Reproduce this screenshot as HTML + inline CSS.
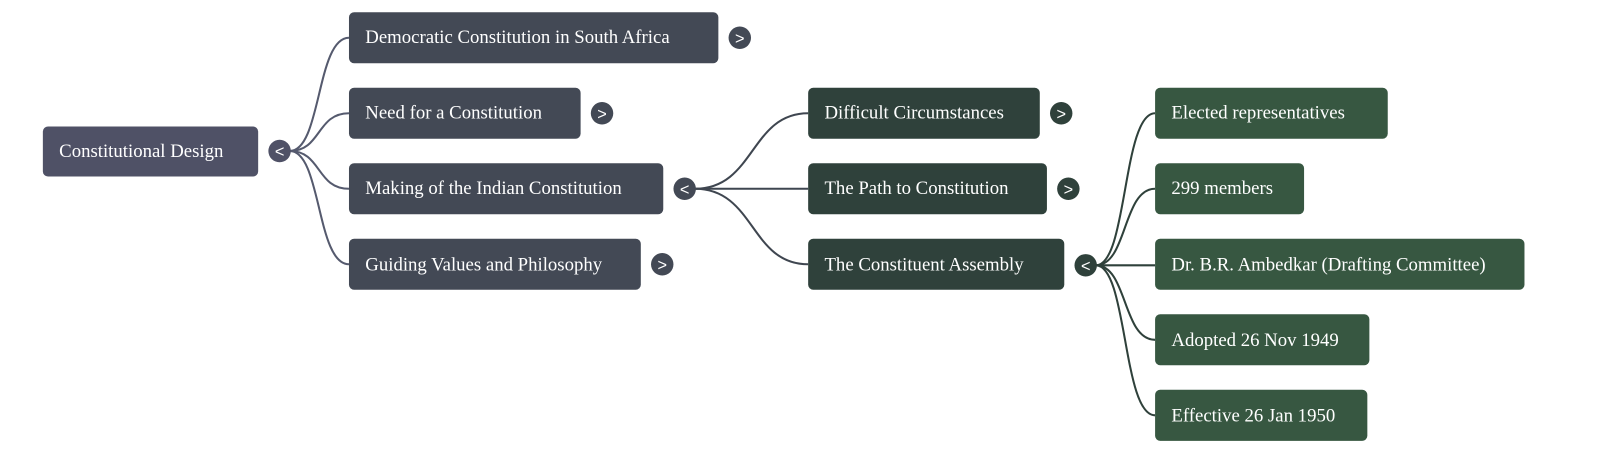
<!DOCTYPE html>
<html><head><style>body{margin:0;background:#fff}svg text{font-family:"Liberation Serif",serif;font-size:18.4px;fill:#fff}</style></head><body>
<svg width="1600" height="454" xmlns="http://www.w3.org/2000/svg">
<g transform="scale(1.0204)">
<g fill="none" stroke-width="2">
<g stroke="#555a6e">
<path d="M284 148 C315 148 310 37 342 37"/>
<path d="M284 148 C315 148 310 111 342 111"/>
<path d="M284 148 C315 148 310 185 342 185"/>
<path d="M284 148 C315 148 310 259 342 259"/>
</g>
<g stroke="#3f4650">
<path d="M681 185 C740 185 735 111 792 111"/>
<path d="M681 185 L792 185"/>
<path d="M681 185 C740 185 735 259 792 259"/>
</g>
<g stroke="#2f413b">
<path d="M1074 260 C1105 260 1100 111 1132 111"/>
<path d="M1074 260 C1105 260 1100 185 1132 185"/>
<path d="M1074 260 L1132 260"/>
<path d="M1074 260 C1105 260 1100 333 1132 333"/>
<path d="M1074 260 C1105 260 1100 407 1132 407"/>
</g>
</g>
<rect x="42" y="124" width="211" height="49" rx="5" fill="#4f5166"/>
<text x="58" y="154">Constitutional Design</text>
<g fill="#434955">
<rect x="342" y="12" width="362" height="50" rx="5"/>
<rect x="342" y="86" width="227" height="50" rx="5"/>
<rect x="342" y="160" width="308" height="50" rx="5"/>
<rect x="342" y="234" width="286" height="50" rx="5"/>
</g>
<text x="358" y="42">Democratic Constitution in South Africa</text>
<text x="358" y="116">Need for a Constitution</text>
<text x="358" y="190">Making of the Indian Constitution</text>
<text x="358" y="265">Guiding Values and Philosophy</text>
<g fill="#2f413b">
<rect x="792" y="86" width="227" height="50" rx="5"/>
<rect x="792" y="160" width="234" height="50" rx="5"/>
<rect x="792" y="234" width="251" height="50" rx="5"/>
</g>
<text x="808" y="116">Difficult Circumstances</text>
<text x="808" y="190">The Path to Constitution</text>
<text x="808" y="265">The Constituent Assembly</text>
<g fill="#375741">
<rect x="1132" y="86" width="228" height="50" rx="5"/>
<rect x="1132" y="160" width="146" height="50" rx="5"/>
<rect x="1132" y="234" width="362" height="50" rx="5"/>
<rect x="1132" y="308" width="210" height="50" rx="5"/>
<rect x="1132" y="382" width="208" height="50" rx="5"/>
</g>
<text x="1148" y="116">Elected representatives</text>
<text x="1148" y="190">299 members</text>
<text x="1148" y="265">Dr. B.R. Ambedkar (Drafting Committee)</text>
<text x="1148" y="339">Adopted 26 Nov 1949</text>
<text x="1148" y="413">Effective 26 Jan 1950</text>
<g text-anchor="middle">
<circle cx="274" cy="148" r="11" fill="#4f5166"/><text x="274" y="154" style="font-family:'Liberation Sans',sans-serif;font-size:16px">&lt;</text>
<circle cx="725" cy="37" r="11" fill="#434955"/><text x="725" y="43" style="font-family:'Liberation Sans',sans-serif;font-size:16px">&gt;</text>
<circle cx="590" cy="111" r="11" fill="#434955"/><text x="590" y="117" style="font-family:'Liberation Sans',sans-serif;font-size:16px">&gt;</text>
<circle cx="671" cy="185" r="11" fill="#434955"/><text x="671" y="191" style="font-family:'Liberation Sans',sans-serif;font-size:16px">&lt;</text>
<circle cx="649" cy="259" r="11" fill="#434955"/><text x="649" y="265" style="font-family:'Liberation Sans',sans-serif;font-size:16px">&gt;</text>
<circle cx="1040" cy="111" r="11" fill="#2f413b"/><text x="1040" y="117" style="font-family:'Liberation Sans',sans-serif;font-size:16px">&gt;</text>
<circle cx="1047" cy="185" r="11" fill="#2f413b"/><text x="1047" y="191" style="font-family:'Liberation Sans',sans-serif;font-size:16px">&gt;</text>
<circle cx="1064" cy="260" r="11" fill="#2f413b"/><text x="1064" y="266" style="font-family:'Liberation Sans',sans-serif;font-size:16px">&lt;</text>
</g>
</g>
</svg>
</body></html>
